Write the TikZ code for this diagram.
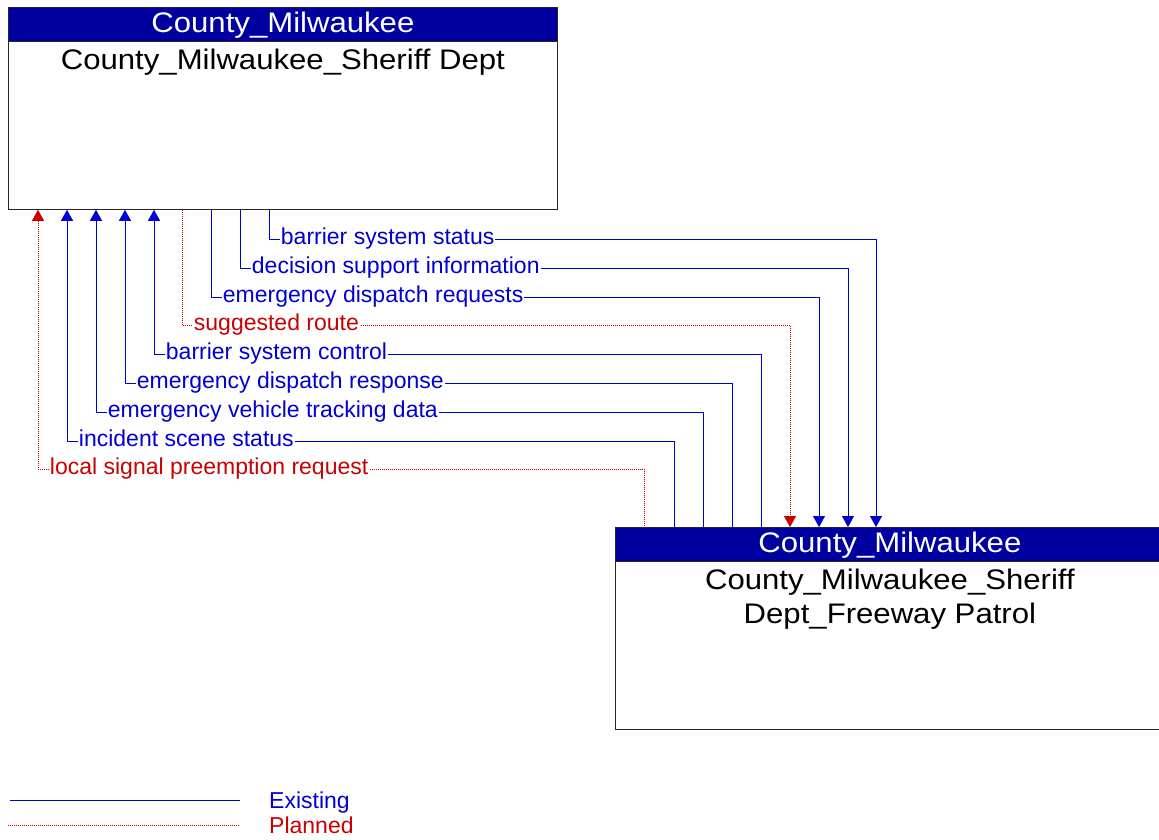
\documentclass[tikz,border=0pt]{standalone}
\usepackage{fontspec}
\setmainfont{Liberation Sans}
\newfontfamily\boxfont[FakeStretch=1.1]{Liberation Sans}
\usetikzlibrary{arrows.meta,positioning,calc}

\definecolor{hdrblue}{RGB}{0,0,160}
\definecolor{flowblue}{RGB}{0,0,210}
\definecolor{flowred}{RGB}{200,0,0}

\begin{document}
\begin{tikzpicture}[
                    x=1pt, y=-1pt,
                    elembox/.style={draw=black!85, line width=0.8pt, minimum width=549pt, minimum height=202pt, anchor=north west, inner sep=0pt},
                    hdrbox/.style={fill=hdrblue, draw=black!85, line width=0.8pt, minimum width=549pt, minimum height=34pt, anchor=north, inner sep=0pt, text height=22pt, text depth=6pt, text=white, font=\boxfont\fontsize{28.3}{34}\selectfont},
                    bodytext/.style={inner sep=0pt, align=center, font=\boxfont\fontsize{28.3}{34}\selectfont},
                    flowlabel/.style={anchor=west, xshift=10.5pt, fill=white, inner sep=1pt, text height=15.9pt, text depth=4.8pt, font=\fontsize{23}{26}\selectfont},
                    legtext/.style={anchor=west, inner sep=0pt, text height=16.5pt, text depth=0pt, font=\fontsize{23}{26}\selectfont},
                    existing/.style={draw=flowblue, line width=0.9pt},
                    planned/.style={draw=flowred, line width=0.9pt, dash pattern=on 1pt off 1pt},
                    tip/.style={-{Triangle[width=12pt,length=11pt]}},
                    backtip/.style={{Triangle[width=12pt,length=11pt]}-}
                ]
                    \useasboundingbox (0,0) rectangle (1159,839);

                    % the two elements
                    \node[elembox] (sheriff) at (8,7) {};
                    \node[hdrbox] (sheriffhdr) at (sheriff.north) {County\_Milwaukee};
                    \node[bodytext, below=7pt of sheriffhdr] (sherifftxt) {County\_Milwaukee\_Sheriff Dept};

                    \node[elembox] (patrol) at (615,527) {};
                    \node[hdrbox] (patrolhdr) at (patrol.north) {County\_Milwaukee};
                    \node[bodytext, below=6.5pt of patrolhdr] (patroltxt) {County\_Milwaukee\_Sheriff\\Dept\_Freeway Patrol};

                    % end points on the boxes
                    \coordinate (s0) at ([xshift=30pt]sheriff.south west);
                    \coordinate (s1) at ([xshift=59pt]sheriff.south west);
                    \coordinate (s2) at ([xshift=88pt]sheriff.south west);
                    \coordinate (s3) at ([xshift=117pt]sheriff.south west);
                    \coordinate (s4) at ([xshift=146pt]sheriff.south west);
                    \coordinate (s5) at ([xshift=174pt]sheriff.south west);
                    \coordinate (s6) at ([xshift=203pt]sheriff.south west);
                    \coordinate (s7) at ([xshift=232pt]sheriff.south west);
                    \coordinate (s8) at ([xshift=261pt]sheriff.south west);

                    \coordinate (p0) at ([xshift=29pt]patrol.north west);
                    \coordinate (p1) at ([xshift=59pt]patrol.north west);
                    \coordinate (p2) at ([xshift=88pt]patrol.north west);
                    \coordinate (p3) at ([xshift=117pt]patrol.north west);
                    \coordinate (p4) at ([xshift=146pt]patrol.north west);
                    \coordinate (p5) at ([xshift=175pt]patrol.north west);
                    \coordinate (p6) at ([xshift=204pt]patrol.north west);
                    \coordinate (p7) at ([xshift=233pt]patrol.north west);
                    \coordinate (p8) at ([xshift=261pt]patrol.north west);

                    % levels of the flows
                    \coordinate (y0) at (0,239);
                    \coordinate (y1) at (0,268);
                    \coordinate (y2) at (0,297);
                    \coordinate (y3) at (0,325);
                    \coordinate (y4) at (0,354);
                    \coordinate (y5) at (0,383);
                    \coordinate (y6) at (0,412);
                    \coordinate (y7) at (0,441);
                    \coordinate (y8) at (0,469);

                    % flows to the freeway patrol
                    \draw[existing, tip] (s8) |- node[flowlabel, text=flowblue] {barrier system status} (y0 -| p8) -- (p8);
                    \draw[existing, tip] (s7) |- node[flowlabel, text=flowblue] {decision support information} (y1 -| p7) -- (p7);
                    \draw[existing, tip] (s6) |- node[flowlabel, text=flowblue] {emergency dispatch requests} (y2 -| p6) -- (p6);
                    \draw[planned, tip] (s5) |- node[flowlabel, text=flowred] {suggested route} (y3 -| p5) -- (p5);

                    % flows to the sheriff dept
                    \draw[existing, backtip] (s4) |- node[flowlabel, text=flowblue] {barrier system control} (y4 -| p4) -- (p4);
                    \draw[existing, backtip] (s3) |- node[flowlabel, text=flowblue] {emergency dispatch response} (y5 -| p3) -- (p3);
                    \draw[existing, backtip] (s2) |- node[flowlabel, text=flowblue] {emergency vehicle tracking data} (y6 -| p2) -- (p2);
                    \draw[existing, backtip] (s1) |- node[flowlabel, text=flowblue] {incident scene status} (y7 -| p1) -- (p1);
                    \draw[planned, backtip] (s0) |- node[flowlabel, text=flowred] {local signal preemption request} (y8 -| p0) -- (p0);

                    % legend
                    \node[legtext, text=flowblue] (existingtxt) at (269,800) {Existing};
                    \node[legtext, text=flowred] (plannedtxt) at (269,825) {Planned};
                    \coordinate (existingstart) at (10,800);
                    \coordinate (plannedstart) at (8,825);
                    \draw[existing] (existingstart) -- ([xshift=-29pt]existingtxt.west);
                    \draw[planned] (plannedstart) -- ([xshift=-29pt]plannedtxt.west);
                \end{tikzpicture}
\end{document}
